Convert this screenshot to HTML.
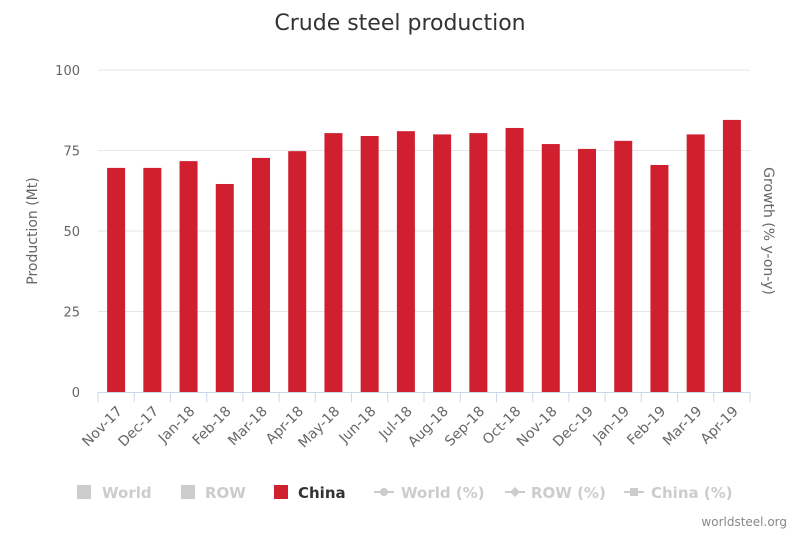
<!DOCTYPE html>
<html><head><meta charset="utf-8"><style>
body{margin:0;background:#fff;font-family:"DejaVu Sans","Liberation Sans",sans-serif;}
svg text{font-family:"DejaVu Sans","Liberation Sans",sans-serif;}
</style></head><body>
<svg id="c" width="800" height="534" xmlns="http://www.w3.org/2000/svg">
<text x="400" y="30" text-anchor="middle" font-size="22" fill="#333">Crude steel production</text>
<g id="grid"></g><g id="bars"></g><g id="xl"></g>
<text transform="translate(37,231) rotate(-90)" text-anchor="middle" font-size="14" fill="#666">Production (Mt)</text>
<text transform="translate(764,231) rotate(90)" text-anchor="middle" font-size="14" fill="#666">Growth (% y-on-y)</text>
<g font-size="15" font-weight="bold">
<g><rect x="77" y="485" width="14" height="14" fill="#ccc"/><text x="102" y="498" fill="#ccc">World</text></g>
<g><rect x="181" y="485" width="14" height="14" fill="#ccc"/><text x="205" y="498" fill="#ccc">ROW</text></g>
<g><rect x="274" y="485" width="14" height="14" fill="#d01f2e"/><text x="298" y="498" fill="#333">China</text></g>
<g><line x1="374" y1="492" x2="394" y2="492" stroke="#ccc" stroke-width="2"/><circle cx="384" cy="492" r="4" fill="#ccc"/><text x="401" y="498" fill="#ccc">World (%)</text></g>
<g><line x1="505" y1="492" x2="525" y2="492" stroke="#ccc" stroke-width="2"/><path d="M515 487 L520 492 L515 497 L510 492Z" fill="#ccc"/><text x="531" y="498" fill="#ccc">ROW (%)</text></g>
<g><line x1="624" y1="492" x2="644" y2="492" stroke="#ccc" stroke-width="2"/><rect x="630" y="488" width="8" height="8" fill="#ccc"/><text x="651" y="498" fill="#ccc">China (%)</text></g>
</g>
<text x="787" y="526" text-anchor="end" font-size="12" fill="#888">worldsteel.org</text>
</svg>
<script>
const categories=["Nov-17","Dec-17","Jan-18","Feb-18","Mar-18","Apr-18","May-18","Jun-18","Jul-18","Aug-18","Sep-18","Oct-18","Nov-18","Dec-19","Jan-19","Feb-19","Mar-19","Apr-19"];
const china=[69.6,69.6,71.7,64.6,72.7,74.8,80.4,79.5,81,80,80.4,82,77,75.5,78,70.5,80,84.5];
const yTicks=[0,25,50,75,100];
const NS="http://www.w3.org/2000/svg";
const x0=98,x1=750,yb=392,yt=70;
const bw=(x1-x0)/categories.length;
const y=v=>yb-(v/100)*(yb-yt);
const xc=i=>x0+bw*(i+0.5);
function mk(t,a,p){const e=document.createElementNS(NS,t);for(const k in a)e.setAttribute(k,a[k]);p.appendChild(e);return e;}
const g=document.getElementById('grid');
yTicks.forEach(t=>{
 if(t>0){const l=mk('line',{x1:x0,x2:x1,y1:y(t),y2:y(t),stroke:'#e6e6e6'},g);
 
 }
 const tx=mk('text',{x:80,y:y(t)+5,'text-anchor':'end','font-size':13,fill:'#666'},g);tx.textContent=t;
 
 
});
const ax=mk('line',{x1:x0,x2:x1,y1:yb+0.5,y2:yb+0.5,stroke:'#ccd6eb'},g);


for(let i=0;i<=categories.length;i++){const tk=mk('line',{x1:x0+bw*i,x2:x0+bw*i,y1:yb,y2:yb+10,stroke:'#ccd6eb'},g);
 
 }
const b=document.getElementById('bars'),xl=document.getElementById('xl');
categories.forEach((c,i)=>{
 const r=mk('rect',{x:xc(i)-9,y:y(china[i]),width:18,height:yb-y(china[i]),fill:'#d01f2e'},b);
 
 
 const t=mk('text',{x:xc(i)+7,y:yb+20,'text-anchor':'end','font-size':14,fill:'#666',transform:`rotate(-45 ${xc(i)+7} ${yb+20})`},xl);
 t.textContent=c;
 
 
});
</script>
</body></html>
